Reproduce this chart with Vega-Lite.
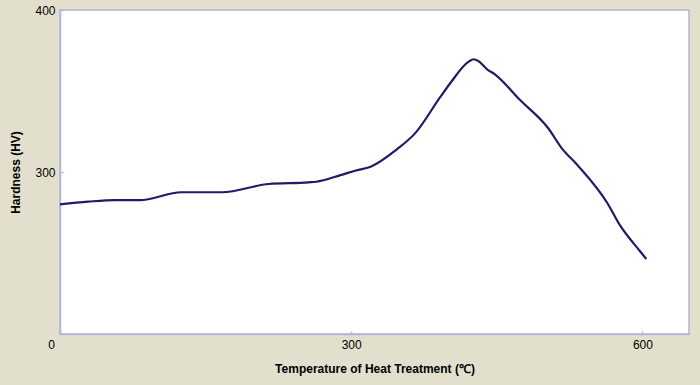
{
  "$schema": "https://vega.github.io/schema/vega-lite/v6.json",
  "width": 629,
  "height": 324,
  "autosize": "none",
  "padding": {"left": 60, "top": 10, "right": 11, "bottom": 51},
  "background": "#e2e0cd",
  "config": {
    "view": {"fill": "white", "stroke": "#b4b4d4", "strokeWidth": 1.5},
    "axis": {
      "labelFont": "Liberation Sans",
      "titleFont": "Liberation Sans",
      "labelFontSize": 12,
      "titleFontSize": 12,
      "titleFontWeight": "bold",
      "labelColor": "#000000",
      "titleColor": "#000000",
      "grid": false,
      "domainColor": "#b4b4d4",
      "domainWidth": 1.5,
      "tickColor": "#b4b4d4",
      "tickWidth": 1.5
    }
  },
  "data": {
    "values": [
      {"temp": 0, "hv": 280},
      {"temp": 29, "hv": 281.7},
      {"temp": 57, "hv": 282.7},
      {"temp": 82, "hv": 282.6},
      {"temp": 125, "hv": 287.5},
      {"temp": 167, "hv": 287.5},
      {"temp": 215, "hv": 292.6},
      {"temp": 256, "hv": 293.6},
      {"temp": 264, "hv": 294},
      {"temp": 289, "hv": 298.1},
      {"temp": 304, "hv": 300.8},
      {"temp": 320, "hv": 303.3},
      {"temp": 347, "hv": 314},
      {"temp": 366, "hv": 324},
      {"temp": 392, "hv": 346.5},
      {"temp": 402, "hv": 354.8},
      {"temp": 421, "hv": 368.1},
      {"temp": 426, "hv": 369.6},
      {"temp": 431, "hv": 368.5},
      {"temp": 440, "hv": 363.4},
      {"temp": 448, "hv": 360.3},
      {"temp": 474, "hv": 344.4},
      {"temp": 503, "hv": 327},
      {"temp": 517, "hv": 314.6},
      {"temp": 533, "hv": 304.3},
      {"temp": 564, "hv": 280.7},
      {"temp": 577, "hv": 267},
      {"temp": 598, "hv": 250.8},
      {"temp": 604, "hv": 246.3}
    ]
  },
  "mark": {"type": "line", "color": "#1c1c6a", "strokeWidth": 2.2, "interpolate": "monotone"},
  "encoding": {
    "x": {
      "field": "temp",
      "type": "quantitative",
      "scale": {"domain": [0, 648], "nice": false, "zero": false},
      "axis": {
        "values": [0, 300, 600],
        "title": "Temperature of Heat Treatment (℃)",
        "tickSize": -3,
        "labelPadding": 8,
        "labelFlush": false,
        "labelOverlap": false,
        "labelOffset": {"condition": {"test": "datum.value === 0", "value": -9}, "value": 0},
        "titleX": 314.5,
        "titleY": 34,
        "titleBaseline": "middle",
        "titleAlign": "center"
      }
    },
    "y": {
      "field": "hv",
      "type": "quantitative",
      "scale": {"domain": [200, 400], "nice": false, "zero": false},
      "axis": {
        "values": [300, 400],
        "title": "Hardness (HV)",
        "tickSize": -3,
        "labelPadding": 8,
        "labelFlush": false,
        "labelOverlap": false,
        "titleAngle": -90,
        "titleX": -45,
        "titleY": 162,
        "titleBaseline": "middle",
        "titleAlign": "center"
      }
    }
  }
}
